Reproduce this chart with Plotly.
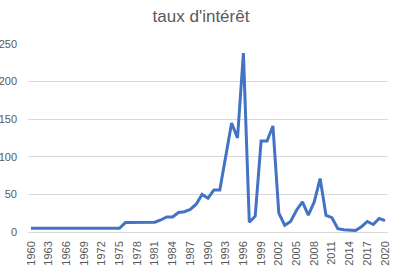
import plotly.graph_objects as go

years = list(range(1960, 2021))
rates = [5]*16 + [12.5, 12.5, 12.5, 12.5, 12.5, 13, 16, 20, 20, 26, 27, 30, 37, 50,
         45, 56, 56, 100, 145, 125, 238, 13, 21, 121, 121, 141, 25, 9, 14, 29, 40,
         22.5, 40, 71, 22, 19, 4.5, 3, 2.5, 2, 7, 14, 10, 18, 15]
tick_years = list(range(1960, 2021, 3))
y_ticks = [0, 50, 100, 150, 200, 250]

fig = go.Figure(go.Scatter(x=years, y=rates, mode="lines",
                           line=dict(color="#4472C4", width=3)))
fig.update_layout(
    width=402, height=273,
    margin=dict(l=28, r=14, t=44, b=41),
    paper_bgcolor="white", plot_bgcolor="white",
    showlegend=False,
    title=dict(text="taux d'intérêt", x=0.5, xanchor="center", y=0.94, yanchor="middle",
               font=dict(family="Liberation Sans", size=17, color="#595959")),
    font=dict(family="Liberation Sans", size=11, color="#595959"),
)
fig.update_xaxes(range=[1959.5, 2020.5], tickmode="array", tickvals=tick_years,
                 ticktext=[str(y) for y in tick_years], tickangle=-90,
                 showgrid=False, zeroline=False, showline=False, ticks="",
                 ticklabelstandoff=6, automargin=False)
fig.update_yaxes(range=[0, 250], tickmode="array", tickvals=y_ticks,
                 showgrid=True, gridcolor="#d9d9d9", gridwidth=1,
                 zeroline=True, zerolinecolor="#d9d9d9", zerolinewidth=1,
                 showline=False, ticks="", ticklabelstandoff=10, automargin=False)
fig.write_html("out.html")
